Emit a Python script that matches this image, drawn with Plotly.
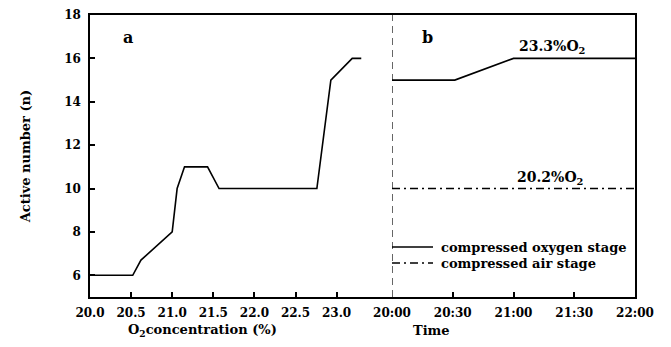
import plotly.graph_objects as go

# Panel a: active number vs O2 concentration
o2_conc = [20.0, 20.52, 20.62, 21.0, 21.06, 21.15, 21.43, 21.57, 22.76, 22.93, 23.19, 23.30]
active_a = [6, 6, 6.7, 8, 10, 11, 11, 10, 10, 15, 16, 16]

# Panel b: active number vs time
time_oxy = ["2000-01-01 20:00", "2000-01-01 20:31", "2000-01-01 21:00", "2000-01-01 22:00"]
active_oxy = [15, 15, 16, 16]
time_air = ["2000-01-01 20:00", "2000-01-01 22:00"]
active_air = [10, 10]

x_ticks_a = [20.0, 20.5, 21.0, 21.5, 22.0, 22.5, 23.0]
x_ticklabels_a = ["20.0", "20.5", "21.0", "21.5", "22.0", "22.5", "23.0"]
x_ticks_b = ["2000-01-01 20:00", "2000-01-01 20:30", "2000-01-01 21:00", "2000-01-01 21:30", "2000-01-01 22:00"]
x_ticklabels_b = ["20:00", "20:30", "21:00", "21:30", "22:00"]
y_ticks = [6, 8, 10, 12, 14, 16, 18]

FONT = "DejaVu Serif"
W, H = 655, 331          # page has an 8px body margin
L, R, T, B = 82, 28, 7, 42
PW, PH = W - L - R, H - T - B
PAGE_X0, PAGE_Y1 = 90, 297   # page pixel of plot left / bottom


def px(xp):
    return (xp - PAGE_X0) / PW


def py(yp):
    return (PAGE_Y1 - yp) / PH


split = px(392)

fig = go.Figure()
fig.add_trace(go.Scatter(x=o2_conc, y=active_a, mode="lines", line=dict(color="black", width=1.6),
                         showlegend=False, xaxis="x", yaxis="y"))
fig.add_trace(go.Scatter(x=time_oxy, y=active_oxy, mode="lines", line=dict(color="black", width=1.6),
                         name="compressed oxygen stage", showlegend=False, xaxis="x2", yaxis="y2"))
fig.add_trace(go.Scatter(x=time_air, y=active_air, mode="lines",
                         line=dict(color="black", width=1.6, dash="8px,4px,2px,4px"),
                         name="compressed air stage", showlegend=False, xaxis="x2", yaxis="y2"))

tickfont = dict(family=FONT, size=12, color="black", weight="bold")
common_x = dict(showline=True, linecolor="black", linewidth=1.5, mirror=True, ticks="inside", ticklen=5,
                tickcolor="black", tickwidth=1.5, showgrid=False, zeroline=False, tickfont=tickfont,
                automargin=False, ticklabelstandoff=4)

fig.update_layout(
    width=W, height=H, margin=dict(l=L, r=R, t=T, b=B, autoexpand=False),
    paper_bgcolor="white", plot_bgcolor="white", showlegend=False,
    xaxis=dict(domain=[0, split], range=[20.0, 23.674], tickvals=x_ticks_a, ticktext=x_ticklabels_a,
               anchor="y", **common_x),
    xaxis2=dict(domain=[split, 1], type="date", range=["2000-01-01 20:00", "2000-01-01 22:00"],
                tickvals=x_ticks_b, ticktext=x_ticklabels_b, anchor="y2", **common_x),
    yaxis=dict(range=[5, 18], tickvals=y_ticks, showline=True, linecolor="black", linewidth=1.5,
               ticks="inside", ticklen=5, tickcolor="black", tickwidth=1.5, showgrid=False, zeroline=False,
               tickfont=tickfont, anchor="x", automargin=False, ticklabelstandoff=5,
               title=dict(text="Active number (n)", font=dict(family=FONT, size=13, color="black", weight="bold"),
                          standoff=31)),
    yaxis2=dict(range=[5, 18], matches="y", anchor="x2", side="right", showline=True, linecolor="black",
                linewidth=1.5, showticklabels=False, ticks="", showgrid=False, zeroline=False, automargin=False),
    shapes=[
        dict(type="line", xref="x2", yref="paper", x0="2000-01-01 20:00", x1="2000-01-01 20:00",
             y0=0, y1=1, line=dict(color="black", width=1.2, dash="7px,5px")),
        dict(type="line", xref="paper", yref="paper", x0=split, x1=px(433), y0=py(247), y1=py(247),
             line=dict(color="black", width=1.5)),
        dict(type="line", xref="paper", yref="paper", x0=split, x1=px(433), y0=py(263), y1=py(263),
             line=dict(color="black", width=1.5, dash="8px,4px,2px,4px")),
    ],
)

bold = lambda s: dict(family=FONT, size=s, color="black", weight="bold")

fig.add_annotation(x=px(127.5), y=py(38), xref="paper", yref="paper", text="a", showarrow=False,
                   xanchor="center", yanchor="middle", font=bold(16))
fig.add_annotation(x=px(427), y=py(38), xref="paper", yref="paper", text="b", showarrow=False,
                   xanchor="center", yanchor="middle", font=bold(16))
fig.add_annotation(x="2000-01-01 21:19", y=16, xref="x2", yref="y2", text="23.3%O<sub>2</sub>",
                   showarrow=False, xanchor="center", yanchor="bottom", font=bold(14))
fig.add_annotation(x="2000-01-01 21:18", y=10, xref="x2", yref="y2", text="20.2%O<sub>2</sub>",
                   showarrow=False, xanchor="center", yanchor="bottom", font=bold(14))
fig.add_annotation(x=px(439), y=py(247), xref="paper", yref="paper", text="compressed oxygen stage",
                   showarrow=False, xanchor="left", yanchor="middle", font=bold(13))
fig.add_annotation(x=px(439), y=py(263), xref="paper", yref="paper", text="compressed air stage",
                   showarrow=False, xanchor="left", yanchor="middle", font=bold(13))
fig.add_annotation(x=px(202), y=py(330.5), xref="paper", yref="paper",
                   text="O<sub>2</sub>concentration (%)", showarrow=False, xanchor="center", yanchor="middle",
                   font=bold(13))
fig.add_annotation(x=px(431), y=py(330.5), xref="paper", yref="paper", text="Time",
                   showarrow=False, xanchor="center", yanchor="middle", font=bold(13))

fig.write_html("out.html")
